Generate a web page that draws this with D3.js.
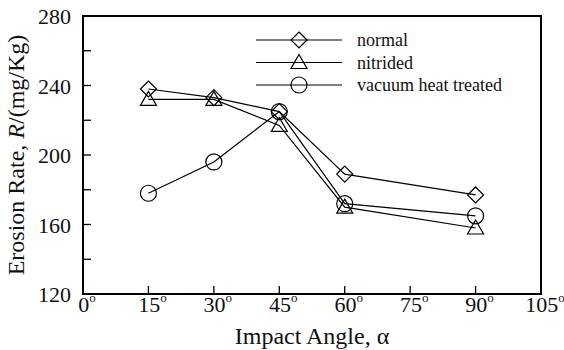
<!DOCTYPE html>
<html>
<head>
<meta charset="utf-8">
<script src="https://cdn.jsdelivr.net/npm/d3@7"></script>
<style>
  body { margin: 0; background: #fff; }
  svg text { font-family: "Liberation Serif", "Times New Roman", serif; fill: #111; }
</style>
</head>
<body>
<svg id="chart" width="564" height="350"></svg>
<script>
const angles = [15, 30, 45, 60, 90];
const normal = [238, 233, 225, 189, 177];
const nitrided = [232, 232, 217, 170, 158];
const vacuum = [178, 196, 225, 172, 165];
const seriesNames = ['normal', 'nitrided', 'vacuum heat treated'];
const seriesShapes = ['diamond', 'triangle', 'circle'];
const xTicks = [0, 15, 30, 45, 60, 75, 90, 105];
const yTicks = [120, 160, 200, 240, 280];
const yMinor = [140, 180, 220, 260];

const svg = d3.select('#chart');
const margin = { left: 83, right: 23, top: 16, bottom: 56 };
const W = 564, H = 350;

const x = d3.scaleLinear().domain([0, 105]).range([margin.left, W - margin.right]);
const y = d3.scaleLinear().domain([120, 280]).range([H - margin.bottom, margin.top]);

// frame
svg.append('rect')
  .attr('x', x(0)).attr('y', y(280))
  .attr('width', x(105) - x(0)).attr('height', y(120) - y(280))
  .attr('fill', 'none').attr('stroke', '#000').attr('stroke-width', 2);

// x ticks (inward)
const xAxis = svg.append('g');
xAxis.selectAll('line')
  .data(xTicks.slice(1, -1))
  .enter().append('line')
  .attr('x1', d => x(d)).attr('x2', d => x(d))
  .attr('y1', y(120)).attr('y2', y(120) - 8)
  .attr('stroke', '#000').attr('stroke-width', 1.3);

const xLab = xAxis.selectAll('text')
  .data(xTicks)
  .enter().append('text')
  .attr('x', d => x(d) + 4)
  .attr('y', 312)
  .attr('text-anchor', 'middle')
  .attr('font-size', 22);
xLab.append('tspan').text(d => d);
xLab.append('tspan').attr('dy', -10).attr('font-size', 13).text('o');

// y ticks
const yAxis = svg.append('g');
yAxis.selectAll('line.major')
  .data(yTicks.slice(1, -1).concat(yMinor))
  .enter().append('line')
  .attr('x1', x(0)).attr('x2', x(0) + 8)
  .attr('y1', d => y(d)).attr('y2', d => y(d))
  .attr('stroke', '#000').attr('stroke-width', 1.3);

yAxis.selectAll('text')
  .data(yTicks)
  .enter().append('text')
  .attr('x', 71)
  .attr('y', d => y(d) + 8)
  .attr('text-anchor', 'end')
  .attr('font-size', 22)
  .text(d => d);

// axis titles
const xt = svg.append('text')
  .attr('x', (x(0) + x(105)) / 2)
  .attr('y', 344)
  .attr('text-anchor', 'middle')
  .attr('font-size', 24);
xt.append('tspan').text('Impact Angle, ');
xt.append('tspan').text('α');

const yt = svg.append('text')
  .attr('transform', `translate(24, ${(y(120) + y(280)) / 2}) rotate(-90)`)
  .attr('text-anchor', 'middle')
  .attr('font-size', 24);
yt.append('tspan').text('Erosion Rate, ');
yt.append('tspan').attr('font-style', 'italic').text('R');
yt.append('tspan').text('/(mg/Kg)');

// markers
function marker(g, shape) {
  if (shape === 'diamond') {
    g.append('path').attr('d', 'M0,-8L8,0L0,8L-8,0Z');
  } else if (shape === 'triangle') {
    g.append('path').attr('d', 'M0,-8L8,6L-8,6Z');
  } else {
    g.append('circle').attr('r', 8);
  }
  g.selectAll('path,circle').attr('fill', 'none').attr('stroke', '#000').attr('stroke-width', 1.2);
}

const allSeries = [normal, nitrided, vacuum];
const line = d3.line().x((d, i) => x(angles[i])).y(d => y(d));

allSeries.forEach((vals, s) => {
  svg.append('path')
    .datum(vals)
    .attr('d', line)
    .attr('fill', 'none')
    .attr('stroke', '#000')
    .attr('stroke-width', 1.2);
  svg.selectAll(null)
    .data(vals)
    .enter().append('g')
    .attr('transform', (d, i) => `translate(${x(angles[i])},${y(d)})`)
    .each(function () { marker(d3.select(this), seriesShapes[s]); });
});

// legend
const legend = svg.append('g');
seriesNames.forEach((name, i) => {
  const ly = 40 + i * 22.5;
  legend.append('line')
    .attr('x1', 256).attr('x2', 342)
    .attr('y1', ly).attr('y2', ly)
    .attr('stroke', '#000').attr('stroke-width', 1.2);
  const g = legend.append('g').attr('transform', `translate(299,${ly})`);
  marker(g, seriesShapes[i]);
  legend.append('text')
    .attr('x', 357).attr('y', ly + 6)
    .attr('font-size', 18)
    .text(name);
});
</script>
</body>
</html>
